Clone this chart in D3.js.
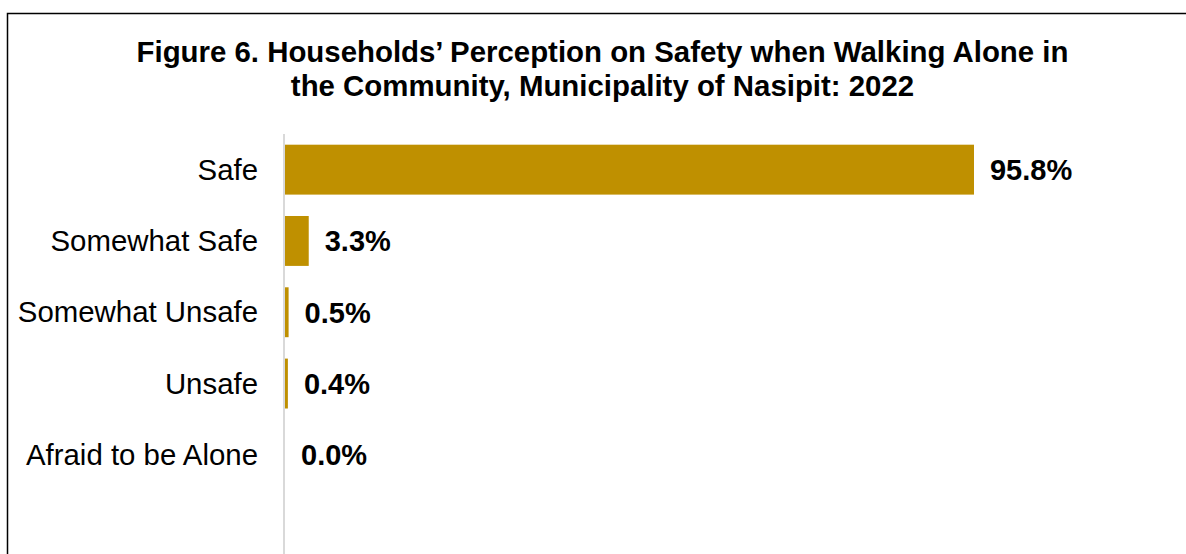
<!DOCTYPE html>
<html>
<head>
<meta charset="utf-8">
<script src="https://cdn.jsdelivr.net/npm/d3@7"></script>
<style>
  html, body { margin: 0; padding: 0; background: #fff; }
  svg { display: block; }
  text { font-family: "Liberation Sans", Arial, sans-serif; }
</style>
</head>
<body>
<svg id="chart" width="1186" height="554"></svg>
<script>
const titleLines = [
  "Figure 6. Households\u2019 Perception on Safety when Walking Alone in",
  "the Community, Municipality of Nasipit: 2022"
];
const categories = ["Safe", "Somewhat Safe", "Somewhat Unsafe", "Unsafe", "Afraid to be Alone"];
const values = [95.8, 3.3, 0.5, 0.4, 0.0];

const W = 1186, H = 554;
const svg = d3.select("#chart");

// outer frame (right and bottom edges fall outside the picture)
svg.append("rect")
  .attr("x", 7.5).attr("y", 13.5)
  .attr("width", 1400).attr("height", 800)
  .attr("fill", "none").attr("stroke", "#000").attr("stroke-width", 1.5);

// title
svg.append("g").selectAll("text")
  .data(titleLines)
  .join("text")
  .attr("x", 602.5)
  .attr("y", (d, i) => 62 + i * 33.5)
  .attr("text-anchor", "middle")
  .attr("font-size", 29.4)
  .attr("font-weight", "bold")
  .attr("fill", "#000")
  .text(d => d);

const x = d3.scaleLinear().domain([0, 100]).range([285, 1004.2]);
const y = d3.scaleBand().domain(categories).range([134, 490.5])
  .paddingInner(0.3).paddingOuter(0.15);

// category axis line
svg.append("line")
  .attr("x1", 284).attr("x2", 284)
  .attr("y1", 134).attr("y2", H)
  .attr("stroke", "#d9d9d9").attr("stroke-width", 2);

// bars
svg.append("g").selectAll("rect")
  .data(values)
  .join("rect")
  .attr("x", x(0))
  .attr("y", (d, i) => y(categories[i]))
  .attr("width", d => x(d) - x(0))
  .attr("height", y.bandwidth())
  .attr("fill", "#BF9000");

// category labels
const yAxis = d3.axisLeft(y).tickSize(0).tickPadding(0);
const ag = svg.append("g").attr("transform", "translate(258,0)").call(yAxis);
ag.select(".domain").remove();
ag.selectAll("text")
  .attr("font-family", "\"Liberation Sans\", Arial, sans-serif")
  .attr("font-size", 29.4)
  .attr("fill", "#000")
  .attr("dy", "0.34em");

// value labels
const fmt = d3.format(".1f");
svg.append("g").selectAll("text")
  .data(values)
  .join("text")
  .attr("x", d => x(d) + 16)
  .attr("y", (d, i) => y(categories[i]) + y.bandwidth() / 2)
  .attr("dy", "0.36em")
  .attr("font-size", 29)
  .attr("font-weight", "bold")
  .attr("fill", "#000")
  .text(d => fmt(d) + "%");
</script>
</body>
</html>
